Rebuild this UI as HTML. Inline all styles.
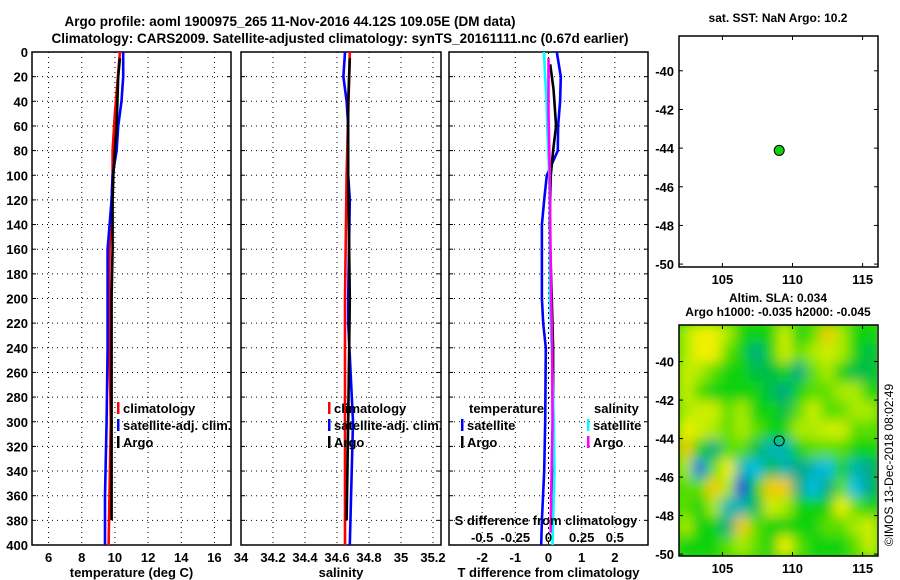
<!DOCTYPE html>
<html><head><meta charset="utf-8"><style>
html,body{margin:0;padding:0;background:#fff;}
svg{display:block;font-family:"Liberation Sans",sans-serif;font-weight:bold;}
</style></head><body>
<svg id="c" width="900" height="580" viewBox="0 0 900 580">
<defs>
<filter id="blur" x="-5%" y="-5%" width="110%" height="110%"><feGaussianBlur stdDeviation="6"/></filter>
<clipPath id="mapclip"><rect x="679" y="325" width="198" height="231"/></clipPath>
</defs>
<text x="290" y="26" font-size="13.5" text-anchor="middle">Argo profile: aoml 1900975_265 11-Nov-2016 44.12S 109.05E (DM data)</text>
<text x="340" y="43" font-size="13.5" text-anchor="middle">Climatology: CARS2009. Satellite-adjusted climatology: synTS_20161111.nc (0.67d earlier)</text>
<g id="g"></g>
</svg>
<script>
// ---- data ----
const depthTicks=[0,20,40,60,80,100,120,140,160,180,200,220,240,260,280,300,320,340,360,380,400];
const tempTicks=[6,8,10,12,14,16];
const salTicks=[34,34.2,34.4,34.6,34.8,35,35.2];
const tdTicks=[-2,-1,0,1,2];
const sdTicks=[-0.5,-0.25,0,0.25,0.5];
const tClimDepth=[0,50,80,100,160,220,300,400];
const tClim=[10.3,10.0,9.86,9.86,9.68,9.65,9.75,9.62];
const tSatDepth=[0,20,40,60,80,100,120,140,160,200,240,300,360,400];
const tSat=[10.5,10.5,10.4,10.2,10.1,9.86,9.8,9.68,9.56,9.56,9.56,9.5,9.4,9.4];
const tArgoDepth=[5,20,40,60,80,100,120,160,200,240,300,380];
const tArgo=[10.3,10.2,10.15,10.1,10.0,9.9,9.86,9.86,9.8,9.8,9.8,9.8];
const sClimDepth=[0,100,200,300,400];
const sClim=[34.68,34.66,34.65,34.65,34.65];
const sSatDepth=[0,20,40,60,100,120,200,220,300,400];
const sSat=[34.65,34.64,34.66,34.67,34.67,34.68,34.67,34.67,34.70,34.68];
const sArgoDepth=[5,40,100,200,300,380];
const sArgo=[34.68,34.67,34.67,34.68,34.67,34.66];
const tdSatDepth=[0,20,40,60,80,100,120,140,160,200,220,240,300,340,380,400];
const tdSat=[0.25,0.37,0.35,0.29,0.28,-0.05,-0.13,-0.2,-0.2,-0.2,-0.16,-0.08,-0.1,-0.13,-0.2,-0.22];
const tdArgoDepth=[10,30,60,80,100,140,200,240,300,380];
const tdArgo=[0.05,0.15,0.23,0.14,0.07,0.03,0.1,0.14,0.14,0.1];
const sdSatDepth=[0,20,40,60,100,140,200,240,300,340,380,400];
const sdSat=[-0.034,-0.026,-0.014,-0.01,0.006,0.01,0.01,0.024,0.04,0.045,0.035,0.03];
const sdArgoDepth=[5,50,100,160,200,240,300,360,390];
const sdArgo=[0,0,0.01,0.015,0.02,0.028,0.03,0.02,0.016];
const lonTicks=[105,110,115];
const latTicks=[-40,-42,-44,-46,-48,-50];
const floatLon=109.05, floatLat=-44.12;
const slaGrid=[
[1,2,2,1,0,0,0,1.5,0,0.5,2.5,1,0,0],
[1,2,2,0.5,0,-1,0,1.5,0.5,1,1.5,1,0,-0.5],
[1.5,1,0.5,0,0,-0.5,-0.5,0,-1,0.5,1,0,-0.5,-0.5],
[1.5,0.5,0,0,0,0,-0.5,-1,0,0.5,0.5,1,1,0],
[1,1.5,1.5,0.5,1,0,0,-0.5,0.5,1.5,0.5,0.5,1,1],
[2,1.5,1,0.5,1,0.5,0,0,1,1,1.5,1.5,0.5,0.5],
[2.5,0,-1,0.5,0.5,-0.5,-1.5,-1.5,0,0.5,0.5,0.5,0,0],
[1,-2.5,0.5,2,-1.5,-2,-0.5,-1.5,-1,-1.5,-2,0,-1.5,-1],
[0.5,0.5,2.5,1,-3,0,2.5,2.5,-1,-2,-1,0.5,-2,-1],
[0.5,0,1,-1.5,-1.5,-0.5,1.5,1,0,0,0,2,0.5,0],
[1,0,0,-1,2.5,0.5,0,0,0,0,0.5,0.5,1,1.5],
[0,0,0,0.5,1,0.5,0,2,0.5,0,0,0,0.5,1.5]];

// ---- helpers ----
const NS="http://www.w3.org/2000/svg";
const G=document.getElementById('g');
function mk(tag,attrs,parent){const e=document.createElementNS(NS,tag);for(const k in attrs)e.setAttribute(k,attrs[k]);(parent||G).appendChild(e);return e;}
function txt(x,y,s,size,anchor,parent){const e=mk('text',{x:x,y:y,'font-size':size,'text-anchor':anchor||'middle'},parent);e.textContent=s;return e;}
const PY0=52,PY1=545;
const yD=d=>PY0+d/400*(PY1-PY0);
function lin(d0,d1,r0,r1){return v=>r0+(v-d0)/(d1-d0)*(r1-r0);}
const xT=lin(5,17,32,231), xS=lin(34,35.25,241,441), xTD=lin(-3,3,449,648), xSD=lin(-0.75,0.75,449,648);

function panel(name,x0,x1,xs,ticks,fmt,xlabel){
  const p=mk('g',{});
  
  
  mk('rect',{x:x0,y:PY0,width:x1-x0,height:PY1-PY0,fill:'#fff',stroke:'#000','stroke-width':1.5},p);
  depthTicks.forEach(d=>{if(d>0&&d<400){mk('line',{x1:x0,x2:x1,y1:yD(d),y2:yD(d),stroke:'#000','stroke-dasharray':'1,4','stroke-width':1},p);}
    mk('line',{x1:x0,x2:x0+4,y1:yD(d),y2:yD(d),stroke:'#000'},p);mk('line',{x1:x1-4,x2:x1,y1:yD(d),y2:yD(d),stroke:'#000'},p);});
  ticks.forEach(t=>{const x=xs(t);if(x>x0+1&&x<x1-1)mk('line',{x1:x,x2:x,y1:PY0,y2:PY1,stroke:'#000','stroke-dasharray':'1,4'},p);
    const l=txt(x,562,fmt(t),13,'middle',p);});
  const xl=txt((x0+x1)/2,577,xlabel,13,'middle',p);
  
  
  return p;
}
function line(p,name,depths,vals,xs,color){
  const pts=depths.map((d,i)=>xs(vals[i]).toFixed(1)+','+yD(d).toFixed(1)).join(' ');
  const e=mk('polyline',{points:pts,fill:'none',stroke:color,'stroke-width':2.6},p);
  
  
}
function legendEntry(p,x,y,color,label){
  const g=mk('g',{},p);
  
  
  mk('rect',{x:x,y:y-11,width:2.5,height:12,fill:color},g);
  txt(x+6,y,label,13,'start',g);
}
const yl=mk('g',{});


depthTicks.forEach(d=>txt(28,yD(d)+5,String(d),13,'end',yl));

const p1=panel('temperature-panel',32,231,xT,tempTicks,String,'temperature (deg C)');
line(p1,'temp-climatology-line',tClimDepth,tClim,xT,'#f00');
line(p1,'temp-satellite-line',tSatDepth,tSat,xT,'#00f');
line(p1,'temp-argo-line',tArgoDepth,tArgo,xT,'#000');
legendEntry(p1,117,413,'#f00','climatology');
legendEntry(p1,117,430,'#00f','satellite-adj. clim.');
legendEntry(p1,117,447,'#000','Argo');
const p2=panel('salinity-panel',241,441,xS,salTicks,String,'salinity');
line(p2,'sal-climatology-line',sClimDepth,sClim,xS,'#f00');
line(p2,'sal-satellite-line',sSatDepth,sSat,xS,'#00f');
line(p2,'sal-argo-line',sArgoDepth,sArgo,xS,'#000');
legendEntry(p2,328,413,'#f00','climatology');
legendEntry(p2,328,430,'#00f','satellite-adj. clim.');
legendEntry(p2,328,447,'#000','Argo');
const p3=panel('difference-panel',449,648,xTD,tdTicks,String,'T difference from climatology');
mk('line',{x1:xTD(0),x2:xTD(0),y1:PY0,y2:PY1,stroke:'#000','stroke-dasharray':'2,3'},p3);
line(p3,'tdiff-satellite-line',tdSatDepth,tdSat,xTD,'#00f');
line(p3,'tdiff-argo-line',tdArgoDepth,tdArgo,xTD,'#000');
line(p3,'sdiff-satellite-line',sdSatDepth,sdSat,xSD,'#0ff');
line(p3,'sdiff-argo-line',sdArgoDepth,sdArgo,xSD,'#f0f');
txt(469,413,'temperature',13,'start',p3);
legendEntry(p3,461,430,'#00f','satellite');
legendEntry(p3,461,447,'#000','Argo');
txt(594,413,'salinity',13,'start',p3);
legendEntry(p3,587,430,'#0ff','satellite');
legendEntry(p3,587,447,'#f0f','Argo');
txt(546,525,'S difference from climatology',13,'middle',p3);
sdTicks.forEach(t=>txt(xSD(t),542,String(t),13,'middle',p3));

const xL=lin(101.9,116.1,679,878);
function mapFrame(name,y0,y1,lat0,lat1){
  const yLat=lin(lat0,lat1,y0,y1);
  const m=mk('g',{});
  
  
  return {m,yLat};
}
function axes(m,y0,y1,yLat){
  mk('rect',{x:679,y:y0,width:199,height:y1-y0,fill:'none',stroke:'#000','stroke-width':1.5},m);
  lonTicks.forEach(t=>{const x=xL(t);mk('line',{x1:x,x2:x,y1:y0,y2:y0+4,stroke:'#000'},m);mk('line',{x1:x,x2:x,y1:y1-4,y2:y1,stroke:'#000'},m);txt(x,y1+17,String(t),13,'middle',m);});
  latTicks.forEach(t=>{const y=yLat(t);mk('line',{x1:679,x2:683,y1:y,y2:y,stroke:'#000'},m);mk('line',{x1:874,x2:878,y1:y,y2:y,stroke:'#000'},m);txt(674,y+5,String(t),13,'end',m);});
}
const A=mapFrame('sst-map',36,267,-38.2,-50.15);
txt(778,22,'sat. SST: NaN Argo: 10.2',12,'middle',A.m);
mk('rect',{x:679,y:36,width:199,height:231,fill:'#fff'},A.m);
axes(A.m,36,267,A.yLat);
const dot=mk('circle',{cx:xL(floatLon),cy:A.yLat(floatLat),r:5,fill:'#10d010',stroke:'#000','stroke-width':1},A.m);


const B=mapFrame('sla-map',325,556,-38.1,-50.1);
txt(778,302,'Altim. SLA: 0.034',12,'middle',B.m);
txt(778,316,'Argo h1000: -0.035 h2000: -0.045',12,'middle',B.m);
function slaColor(v){
  const stops=[[-3,[0,40,220]],[-2,[0,190,230]],[-1,[0,170,130]],[0,[10,210,10]],[1,[170,235,0]],[2,[240,240,0]],[3,[245,165,0]]];
  if(v<=-3)return 'rgb(0,40,220)';if(v>=3)return 'rgb(245,165,0)';
  for(let i=0;i<stops.length-1;i++){const a=stops[i],b=stops[i+1];if(v>=a[0]&&v<=b[0]){const f=(v-a[0])/(b[0]-a[0]);return 'rgb('+a[1].map((c,k)=>Math.round(c+(b[1][k]-c)*f)).join(',')+')';}}
}
const hm=mk('g',{'clip-path':'url(#mapclip)'},B.m);


mk('rect',{x:679,y:325,width:199,height:231,fill:slaColor(0.3)},hm);
const hmb=mk('g',{filter:'url(#blur)'},hm);
const nR=slaGrid.length,nC=slaGrid[0].length;
const cw=199/nC,ch=231/nR;
slaGrid.forEach((row,r)=>row.forEach((v,c)=>{
  const cell=mk('rect',{x:679+c*cw-1,y:325+r*ch-1,width:cw+2,height:ch+2,fill:slaColor(v)},hmb);
  
  
}));
axes(B.m,325,556,B.yLat);
const dot2=mk('circle',{cx:xL(floatLon),cy:B.yLat(floatLat),r:5,fill:'none',stroke:'#000','stroke-width':1},B.m);


const cp=txt(0,0,'©IMOS 13-Dec-2018 08:02:49',12,'middle');
cp.setAttribute('transform','translate(893,465) rotate(-90)');
cp.setAttribute('font-weight','normal');


</script>
</body></html>
